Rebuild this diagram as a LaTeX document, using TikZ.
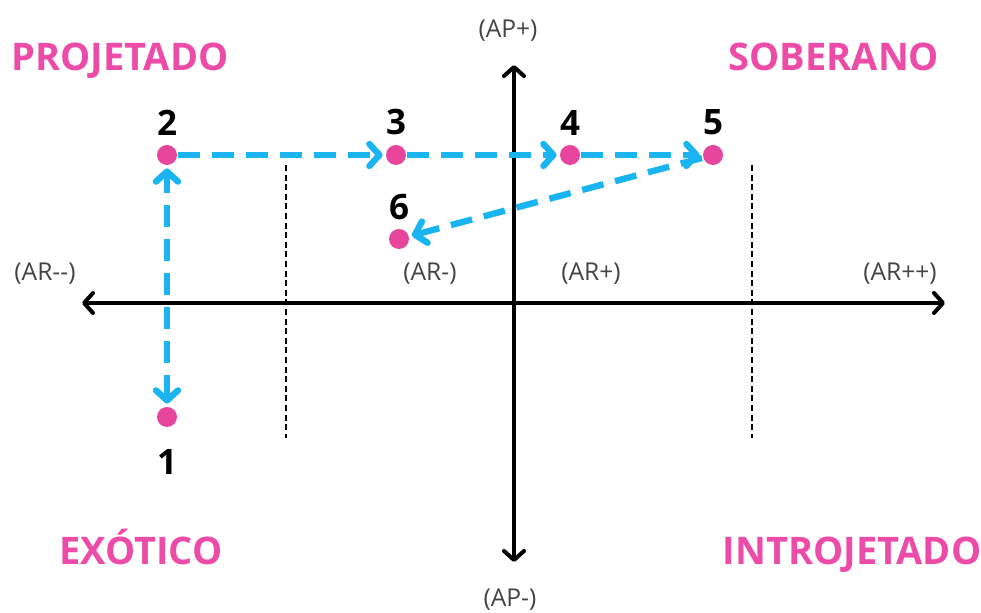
\documentclass[tikz,border=0pt]{standalone}
\usepackage{fontspec}
\setmainfont{Open Sans}
\usetikzlibrary{positioning,arrows.meta}
\definecolor{dotpink}{HTML}{E8459F}
\definecolor{titlepink}{HTML}{EC4BA8}
\definecolor{flowcyan}{HTML}{1AB4F0}
\definecolor{labelgray}{HTML}{444444}
\tikzset{
  dotnode/.style={circle,fill=dotpink,inner sep=0pt,minimum size=10pt},
  numlabel/.style={font=\fontsize{17.5}{20}\selectfont\bfseries,inner sep=0pt},
  quadlabel/.style={text=titlepink,font=\fontsize{19}{23}\selectfont\bfseries,anchor=base},
  axislabel/.style={text=labelgray,font=\fontsize{12.3}{14}\selectfont},
  axisline/.style={{Straight Barb[length=4.5pt,width=10pt,round]}-{Straight Barb[length=4.5pt,width=10pt,round]},
    line width=2pt,line cap=round},
  zoneline/.style={line width=1pt,dash pattern=on 3pt off 1.8pt},
  flow/.style={-{Straight Barb[length=5pt,width=11pt,round]},line width=3.2pt,draw=flowcyan,
    dash pattern=on 11pt off 6pt,shorten >=1.5pt,shorten <=0.5pt},
}
\begin{document}
\begin{tikzpicture}[x=0.5pt,y=-0.5pt]
  \useasboundingbox (0,0) rectangle (981,613);
  % axes
  \coordinate (arL) at (82,303);
  \coordinate (arR) at (945,303);
  \coordinate (apT) at (514,65);
  \coordinate (apB) at (514,562);
  \draw[axisline] (arL) -- (arR);
  \draw[axisline] (apB) -- (apT);
  % zone borders
  \coordinate (zl1) at (286,165);
  \coordinate (zl2) at (286,438);
  \coordinate (zr1) at (752,165);
  \coordinate (zr2) at (752,438);
  \draw[zoneline] (zl1) -- (zl2);
  \draw[zoneline] (zr1) -- (zr2);
  % axis labels
  \node[axislabel] (lARmm) at (45,274) {(AR-{}-)};
  \node[axislabel] (lARm) at (430,274) {(AR-)};
  \node[axislabel] (lARp) at (591,274) {(AR+)};
  \node[axislabel] (lARpp) at (900,274) {(AR++)};
  \node[axislabel] (lAPp) at (508,31) {(AP+)};
  \node[axislabel] (lAPm) at (510,600) {(AP-)};
  % quadrants
  \node[quadlabel] (qproj) at (120,71) {PROJETADO};
  \node[quadlabel] (qsob) at (834,71) {SOBERANO};
  \node[quadlabel] (qexo) at (141,565) {EXÓTICO};
  \node[quadlabel] (qintro) at (852,565) {INTROJETADO};
  % points
  \node[dotnode] (p1) at (167,417) {};
  \node[dotnode] (p2) at (167,155) {};
  \node[dotnode] (p3) at (396,155) {};
  \node[dotnode] (p4) at (570,155) {};
  \node[dotnode] (p5) at (713,155) {};
  \node[dotnode] (p6) at (399,239) {};
  \node[numlabel,below=11pt of p1] (n1) {1};
  \node[numlabel,above=4.5pt of p2] (n2) {2};
  \node[numlabel,above=4.5pt of p3] (n3) {3};
  \node[numlabel,above=4.5pt of p4] (n4) {4};
  \node[numlabel,above=4.5pt of p5] (n5) {5};
  \node[numlabel,above=4pt of p6] (n6) {6};
  % path
  \draw[flow,{Straight Barb[length=5pt,width=11pt,round]}-{Straight Barb[length=5pt,width=11pt,round]},shorten <=1.5pt] (p1) -- (p2);
  \draw[flow] (p2) -- (p3);
  \draw[flow] (p3) -- (p4);
  \draw[flow] (p4) -- (p5);
  \draw[flow] (p5) -- (p6);
\end{tikzpicture}
\end{document}
